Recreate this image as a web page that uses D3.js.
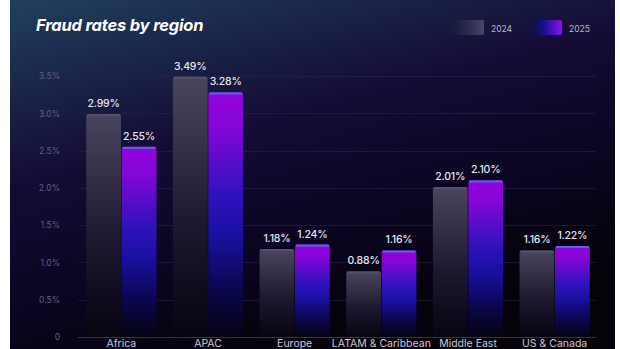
<!DOCTYPE html>
<html>
<head>
<meta charset="utf-8">
<script src="https://cdn.jsdelivr.net/npm/d3@7"></script>
<style>
  html, body { margin: 0; padding: 0; background: #ffffff; }
  svg { display: block; }
  text { font-family: Inter, "Noto Sans", sans-serif; }
</style>
</head>
<body>
<svg id="chart" width="620" height="349"></svg>
<script>
// Fraud rate (%) per region, two reporting years
const regions = ["Africa", "APAC", "Europe", "LATAM & Caribbean", "Middle East", "US & Canada"];
const rates2024 = [2.99, 3.49, 1.18, 0.88, 2.01, 1.16];
const rates2025 = [2.55, 3.28, 1.24, 1.16, 2.10, 1.22];
const years = ["2024", "2025"];
const yTicks = [0, 0.5, 1.0, 1.5, 2.0, 2.5, 3.0, 3.5];
const yTickLabels = ["0", "0.5%", "1.0%", "1.5%", "2.0%", "2.5%", "3.0%", "3.5%"];

const W = 620, H = 349;
const svg = d3.select("#chart");
const defs = svg.append("defs");

// Panel background: teal glow top-left fading to near-black violet
const bg = defs.append("linearGradient").attr("id", "bg")
  .attr("x1", 0).attr("y1", 0).attr("x2", 0.45).attr("y2", 1);
[[0, "#21405c"], [0.22, "#1a2549"], [0.45, "#140b35"], [0.75, "#0a0520"], [1, "#050209"]]
  .forEach(([o, c]) => bg.append("stop").attr("offset", o).attr("stop-color", c));

const bar24 = defs.append("linearGradient").attr("id", "bar24")
  .attr("x1", 0).attr("y1", 0).attr("x2", 0).attr("y2", 1);
[[0, "#49455e"], [0.25, "#37324a"], [0.55, "#1e1930"], [0.8, "#110c1e"], [1, "#080512"]]
  .forEach(([o, c]) => bar24.append("stop").attr("offset", o).attr("stop-color", c));

const bar25 = defs.append("linearGradient").attr("id", "bar25")
  .attr("x1", 0).attr("y1", 0).attr("x2", 0).attr("y2", 1);
[[0, "#9004dc"], [0.13, "#8606d8"], [0.42, "#3012bc"], [0.58, "#1a10a2"], [0.8, "#0b0750"], [1, "#050312"]]
  .forEach(([o, c]) => bar25.append("stop").attr("offset", o).attr("stop-color", c));

const leg24 = defs.append("linearGradient").attr("id", "leg24")
  .attr("x1", 0).attr("y1", 0).attr("x2", 1).attr("y2", 0);
[[0, "#1c2046", 0], [0.3, "#252646", 0.6], [1, "#4a4866", 1]]
  .forEach(([o, c, a]) => leg24.append("stop").attr("offset", o).attr("stop-color", c).attr("stop-opacity", a));

const leg25 = defs.append("linearGradient").attr("id", "leg25")
  .attr("x1", 0).attr("y1", 0).attr("x2", 1).attr("y2", 0);
[[0, "#0d0c40", 0], [0.45, "#120e8c", 0.9], [0.75, "#4a12c8", 1], [1, "#9012e6", 1]]
  .forEach(([o, c, a]) => leg25.append("stop").attr("offset", o).attr("stop-color", c).attr("stop-opacity", a));

// Panel
svg.append("rect").attr("x", 10).attr("y", 0).attr("width", 605).attr("height", H)
  .attr("fill", "url(#bg)");

// Title
svg.append("text").attr("x", 36).attr("y", 31)
  .attr("fill", "#ffffff").attr("font-size", 16.5).attr("font-weight", 700)
  .attr("font-style", "italic").attr("letter-spacing", -0.2)
  .text("Fraud rates by region");

// Legend
const legendItems = [
  { key: years[0], x: 448, fill: "url(#leg24)" },
  { key: years[1], x: 526, fill: "url(#leg25)" }
];
const lg = svg.append("g").selectAll("g").data(legendItems).join("g")
  .attr("transform", d => `translate(${d.x},20)`);
lg.append("rect").attr("width", 36).attr("height", 15).attr("rx", 2).attr("fill", d => d.fill);
lg.append("text").attr("x", 43).attr("y", 11.5).attr("font-size", 8.5)
  .attr("fill", "#b8b6cc").text(d => d.key);

// Scales
const x0 = d3.scaleBand().domain(regions).range([78, 598])
  .paddingInner(0.19).paddingOuter(0.095);
const x1 = d3.scaleBand().domain(years).range([0, x0.bandwidth()]).paddingInner(0.02);
const y = d3.scaleLinear().domain([0, 3.5]).range([337, 76]);

// Grid
const grid = svg.append("g");
grid.selectAll("line").data(yTicks).join("line")
  .attr("x1", 78).attr("x2", 596)
  .attr("y1", d => Math.round(y(d)) + 0.5).attr("y2", d => Math.round(y(d)) + 0.5)
  .attr("stroke", (d) => d === 0 ? "#3a3556" : "#2b2550")
  .attr("stroke-opacity", d => d === 0 ? 0.9 : 0.55)
  .attr("stroke-width", 1);

// Y axis labels
const yAxis = d3.axisLeft(y).tickValues(yTicks)
  .tickFormat((d, i) => yTickLabels[i]).tickSize(0).tickPadding(0);
const yg = svg.append("g").attr("transform", "translate(60,0)").call(yAxis);
yg.select(".domain").remove();
yg.selectAll("text").attr("fill", "#615f84").attr("font-size", 8.5)
  .attr("font-family", "Inter, 'Noto Sans', sans-serif");

// X axis labels (sit at the panel's lower edge)
const xAxis = d3.axisBottom(x0).tickSize(0).tickPadding(0);
const xg = svg.append("g").attr("transform", "translate(0,340)").call(xAxis);
xg.select(".domain").remove();
xg.selectAll("text").attr("fill", "#c9c7da").attr("font-size", 10.5)
  .attr("dy", "0.71em").attr("font-family", "Inter, 'Noto Sans', sans-serif");

// Bars
const rows = regions.map((r, i) => ({
  region: r,
  values: [
    { year: years[0], v: rates2024[i] },
    { year: years[1], v: rates2025[i] }
  ]
}));

const groups = svg.append("g").selectAll("g").data(rows).join("g")
  .attr("transform", d => `translate(${x0(d.region)},0)`);

const bars = groups.selectAll("g").data(d => d.values).join("g");

bars.append("path")
  .attr("d", d => {
    const bx = x1(d.year), bw = x1.bandwidth(), top = y(d.v), bot = y(0), r = 2;
    return `M${bx},${bot}V${top + r}Q${bx},${top} ${bx + r},${top}H${bx + bw - r}Q${bx + bw},${top} ${bx + bw},${top + r}V${bot}Z`;
  })
  .attr("fill", d => d.year === years[0] ? "url(#bar24)" : "url(#bar25)");

// Bright cap on the 2025 bars, lighter rim on 2024 bars
bars.append("rect")
  .attr("x", d => x1(d.year) + 1).attr("width", x1.bandwidth() - 2)
  .attr("y", d => y(d.v)).attr("height", 2)
  .attr("fill", d => d.year === years[0] ? "#55516c" : "#5a64f2");

// Value labels
bars.append("text")
  .attr("x", d => x1(d.year) + x1.bandwidth() / 2)
  .attr("y", d => y(d.v) - 7)
  .attr("text-anchor", "middle")
  .attr("fill", "#e6e4ee").attr("font-size", 10.5).attr("font-weight", 500)
  .attr("letter-spacing", -0.2)
  .text(d => d.v.toFixed(2) + "%");
</script>
</body>
</html>
